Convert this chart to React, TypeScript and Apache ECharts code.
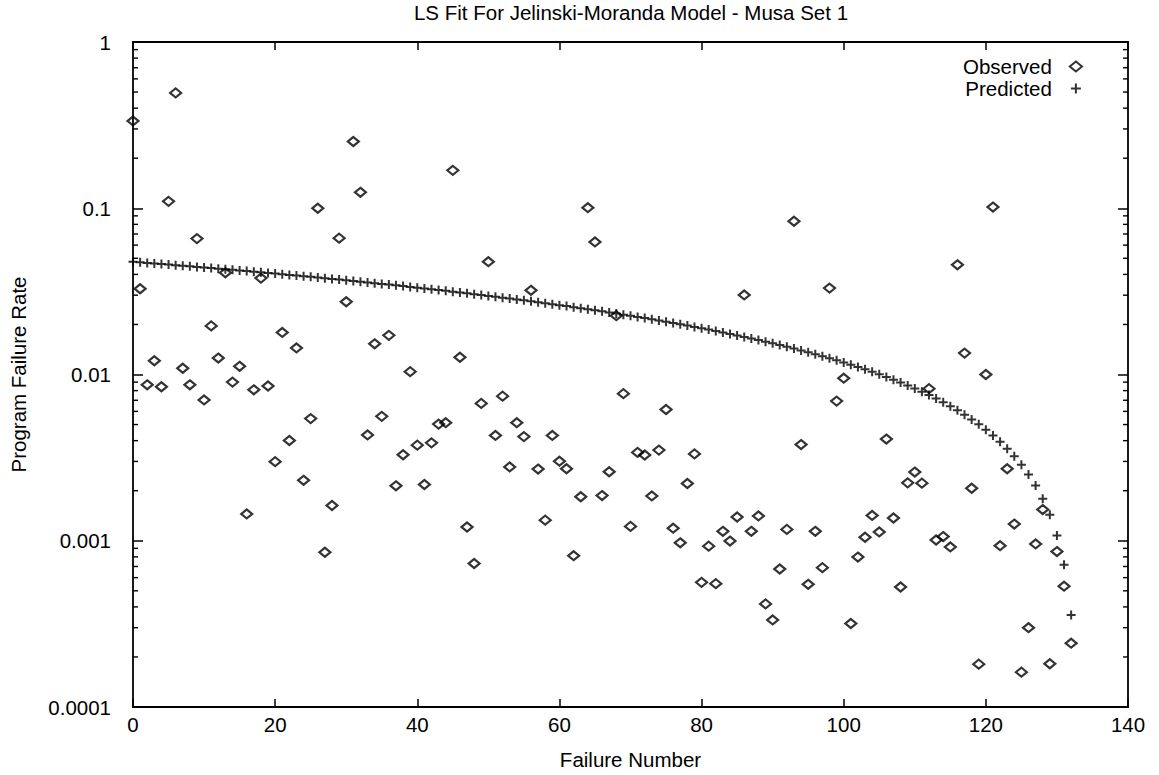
import React, { useEffect, useRef } from "react";
import * as echarts from "echarts";

// Observed failure rate for each failure number (index = failure number)
const observedRate = [
  0.335, 0.0328, 0.00867, 0.0121, 0.00844, 0.11, 0.494, 0.0109, 0.00867, 0.0657,
  0.00703, 0.0196, 0.01256, 0.0409, 0.009, 0.0112, 0.00145, 0.00809, 0.038, 0.00853,
  0.00299, 0.0179, 0.00401, 0.01445, 0.00231, 0.00543, 0.1, 0.000853, 0.00163, 0.0661,
  0.0274, 0.252, 0.1247, 0.00433, 0.0153, 0.0056, 0.0172, 0.00214, 0.00329, 0.0104,
  0.00376, 0.00218, 0.00388, 0.00503, 0.00513, 0.169, 0.0127, 0.00121, 0.00073, 0.0067,
  0.0477, 0.0043, 0.00741, 0.00278, 0.00513, 0.00423, 0.0321, 0.0027, 0.00133, 0.0043,
  0.00301, 0.00271, 0.000813, 0.00184, 0.1008, 0.0627, 0.00187, 0.0026, 0.0226, 0.00767,
  0.00122, 0.0034, 0.00328, 0.00186, 0.00351, 0.00616, 0.00119, 0.000972, 0.00221, 0.00333,
  0.000562, 0.000928, 0.000552, 0.00114, 0.000996, 0.00139, 0.0301, 0.00114, 0.00141, 0.000417,
  0.000334, 0.000676, 0.00117, 0.0835, 0.00379, 0.000547, 0.00114, 0.000689, 0.0331, 0.00692,
  0.0095, 0.000318, 0.000798, 0.00105, 0.00142, 0.00113, 0.00409, 0.00137, 0.000527, 0.00223,
  0.00259, 0.00222, 0.00822, 0.00101, 0.00106, 0.000918, 0.0457, 0.01345, 0.00207, 0.000181,
  0.01, 0.1017, 0.000934, 0.00271, 0.00126, 0.000162, 0.0003, 0.000957, 0.00154, 0.000182,
  0.000861, 0.000533, 0.000242,
];

// Least-squares Jelinski-Moranda predicted rate for each failure number
const predictedRate = [
  0.04761, 0.04726, 0.0469, 0.04654, 0.04618, 0.04582, 0.04547, 0.04511, 0.04475, 0.04439,
  0.04403, 0.04368, 0.04332, 0.04296, 0.0426, 0.04224, 0.04189, 0.04153, 0.04117, 0.04081,
  0.04045, 0.0401, 0.03974, 0.03938, 0.03902, 0.03866, 0.03831, 0.03795, 0.03759, 0.03723,
  0.03687, 0.03652, 0.03616, 0.0358, 0.03544, 0.03508, 0.03473, 0.03437, 0.03401, 0.03365,
  0.03329, 0.03294, 0.03258, 0.03222, 0.03186, 0.0315, 0.03115, 0.03079, 0.03043, 0.03007,
  0.02971, 0.02936, 0.029, 0.02864, 0.02828, 0.02792, 0.02757, 0.02721, 0.02685, 0.02649,
  0.02613, 0.02578, 0.02542, 0.02506, 0.0247, 0.02434, 0.02399, 0.02363, 0.02327, 0.02291,
  0.02255, 0.0222, 0.02184, 0.02148, 0.02112, 0.02076, 0.02041, 0.02005, 0.01969, 0.01933,
  0.01897, 0.01862, 0.01826, 0.0179, 0.01754, 0.01718, 0.01683, 0.01647, 0.01611, 0.01575,
  0.01539, 0.01504, 0.01468, 0.01432, 0.01396, 0.0136, 0.01325, 0.01289, 0.01253, 0.01217,
  0.01181, 0.01146, 0.0111, 0.01074, 0.01038, 0.01002, 0.009666, 0.009308, 0.00895, 0.008592,
  0.008234, 0.007876, 0.007518, 0.00716, 0.006802, 0.006444, 0.006086, 0.005728, 0.00537, 0.005012,
  0.004654, 0.004296, 0.003938, 0.00358, 0.003222, 0.002864, 0.002506, 0.002148, 0.00179, 0.001432,
  0.001074, 0.000716, 0.000358,
];

const seriesNames = ["Observed", "Predicted"];
const yTickLabels = ["0.0001", "0.001", "0.01", "0.1", "1"];
const minorMultipliers = [2, 3, 4, 5, 6, 7, 8, 9];
const minorDecades = [-4, -3, -2, -1];

const chartTitle = "LS Fit For Jelinski-Moranda Model - Musa Set 1";
const xAxisTitle = "Failure Number";
const yAxisTitle = "Program Failure Rate";

const FONT = "'Liberation Sans', Arial, Helvetica, sans-serif";
const FONT_SIZE = 20.5;
const INK = "#000";
// Hollow diamond and plus markers as paths so the legend keeps their proportions
const DIAMOND = "path://M5.5,0L11,4.5L5.5,9L0,4.5Z";
const PLUS = "path://M0,5L10,5M5,0L5,10";

export default function App() {
  const ref = useRef<HTMLDivElement>(null);

  useEffect(() => {
    const el = ref.current;
    if (!el) return;
    const chart = echarts.init(el, null, { renderer: "svg" });

    const axisLine = { show: true, onZero: false, lineStyle: { color: INK, width: 1.8 } };
    const xTick = { show: true, inside: true, length: 8, lineStyle: { color: INK, width: 1.5 } };
    const yTick = { show: true, inside: true, length: 10, lineStyle: { color: INK, width: 1.5 } };
    const tickFont = { fontFamily: FONT, fontSize: FONT_SIZE, color: INK };

    const yLabel = (v: number) => {
      const idx = Math.round(Math.log10(v)) + 4;
      return yTickLabels[idx] ?? "";
    };

    chart.setOption({
      animation: false,
      backgroundColor: "#fff",
      title: {
        text: chartTitle,
        left: 631,
        top: 2,
        textAlign: "center",
        padding: 0,
        textStyle: { fontFamily: FONT, fontSize: FONT_SIZE, fontWeight: "normal", color: INK },
      },
      legend: {
        orient: "vertical",
        right: 76,
        top: 56,
        align: "right",
        padding: 0,
        itemGap: 1,
        itemWidth: 38,
        itemHeight: 10,
        symbolKeepAspect: true,
        textStyle: { fontFamily: FONT, fontSize: FONT_SIZE, color: INK },
        data: [{ name: seriesNames[0] }, { name: seriesNames[1] }],
      },
      grid: { left: 133, right: 31, top: 42, bottom: 65 },
      xAxis: [
        {
          type: "value",
          position: "bottom",
          min: 0,
          max: 140,
          interval: 20,
          name: xAxisTitle,
          nameLocation: "middle",
          nameGap: 42,
          nameTextStyle: { fontFamily: FONT, fontSize: FONT_SIZE, color: INK },
          axisLine,
          axisTick: xTick,
          axisLabel: { ...tickFont, margin: 7 },
          splitLine: { show: false },
        },
        {
          type: "value",
          position: "top",
          min: 0,
          max: 140,
          interval: 20,
          axisLine,
          axisTick: xTick,
          axisLabel: { show: false },
          splitLine: { show: false },
        },
      ],
      yAxis: [
        {
          type: "log",
          logBase: 10,
          position: "left",
          min: 0.0001,
          max: 1,
          name: yAxisTitle,
          nameLocation: "middle",
          nameGap: 104,
          nameRotate: 90,
          nameTextStyle: { fontFamily: FONT, fontSize: FONT_SIZE, color: INK },
          axisLine,
          axisTick: yTick,
          axisLabel: { ...tickFont, margin: 22, formatter: yLabel },
          splitLine: { show: false },
        },
        {
          type: "log",
          logBase: 10,
          position: "right",
          min: 0.0001,
          max: 1,
          axisLine,
          axisTick: yTick,
          axisLabel: { show: false },
          splitLine: { show: false },
        },
      ],
      series: [
        {
          name: seriesNames[0],
          type: "scatter",
          data: observedRate.map((v, i) => [i, v]),
          symbol: DIAMOND,
          symbolSize: [11, 9],
          itemStyle: { color: "rgba(0,0,0,0)", borderColor: INK, borderWidth: 2.2 },
          z: 3,
        },
        {
          name: seriesNames[1],
          type: "scatter",
          data: predictedRate.map((v, i) => [i, v]),
          symbol: PLUS,
          symbolSize: 9,
          itemStyle: { color: "rgba(0,0,0,0)", borderColor: INK, borderWidth: 2 },
          z: 2,
        },
      ],
    });

    // Minor log ticks (2..9 within each decade) on the left and right borders
    const xLeft = chart.convertToPixel({ xAxisIndex: 0 }, 0) as number;
    const xRight = chart.convertToPixel({ xAxisIndex: 0 }, 140) as number;
    const minorTicks: any[] = [];
    minorDecades.forEach((d) => {
      minorMultipliers.forEach((m) => {
        const y = chart.convertToPixel({ yAxisIndex: 0 }, m * Math.pow(10, d)) as number;
        minorTicks.push(
          { type: "line", shape: { x1: xLeft, y1: y, x2: xLeft + 5, y2: y }, style: { stroke: INK, lineWidth: 1.4 }, silent: true },
          { type: "line", shape: { x1: xRight - 5, y1: y, x2: xRight, y2: y }, style: { stroke: INK, lineWidth: 1.4 }, silent: true }
        );
      });
    });
    chart.setOption({ graphic: minorTicks });

    return () => chart.dispose();
  }, []);

  return (
    <div
      ref={ref}
      style={{ position: "fixed", left: 0, top: 0, width: 1159, height: 775, background: "#fff" }}
    />
  );
}
